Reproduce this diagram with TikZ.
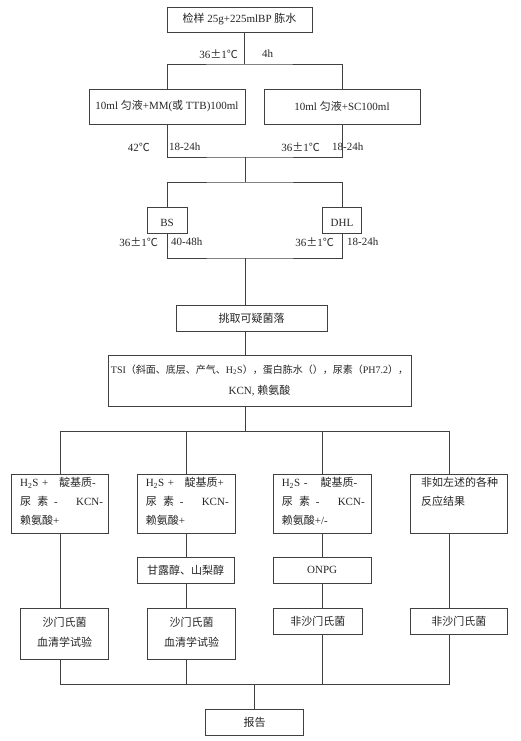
\documentclass[tikz,border=0pt]{standalone}
\usepackage{fontspec}
\setmainfont{Liberation Serif}
\newfontfamily\cjk{Noto Sans CJK SC}
\newcommand{\zh}[1]{{\cjk #1}}
\definecolor{linec}{gray}{0.25}
\definecolor{textc}{gray}{0.15}
\begin{document}
\begin{tikzpicture}[x=1pt,y=-1pt,
  box/.style={draw=linec, line width=0.95pt, inner sep=0pt, text=textc, font=\fontsize{11}{19}\selectfont},
  lbox/.style={box, align=left, minimum height=59pt, inner xsep=8.5pt},
  cbox/.style={box, align=center, font=\fontsize{11}{20}\selectfont},
  lbl/.style={inner sep=0pt, text=textc, font=\fontsize{11}{13}\selectfont},
  conn/.style={draw=linec, line width=0.95pt, line join=miter}]
\useasboundingbox[fill=white] (0,0) rectangle (520,741);

% boxes
\node[box, minimum width=145pt, minimum height=25pt] (top) at (239.5,19.5) {\zh{检样} 25g+225mlBP \zh{胨水}};
\node[box, minimum width=156pt, minimum height=35pt] (L2) at (167,106.5) {10ml \zh{匀液}+MM(\zh{或} TTB)100ml};
\node[box, minimum width=156pt, minimum height=35pt] (R2) at (342,106.5) {10ml \zh{匀液}+SC100ml};
\node[box, minimum width=40pt, minimum height=26pt] (BS) at (167,220) {BS\rule{0pt}{13pt}\hspace{12pt}};
\node[box, minimum width=39pt, minimum height=26pt] (DHL) at (342,220) {DHL\rule{0pt}{13pt}\hspace{5pt}};
\node[box, minimum width=151pt, minimum height=26pt] (pick) at (251.5,318) {\zh{挑取可疑菌落}};
\node[box, minimum width=303pt, minimum height=51pt, align=center, font=\fontsize{11}{21}\selectfont] (tsi) at (259.5,380.5)
  {{\fontsize{10}{21}\selectfont TSI\zh{（斜面、底层、产气、}H\textsubscript{2}S\zh{），蛋白胨水（），尿素（}PH7.2\zh{），}}\\KCN, \zh{赖氨酸}};

\node[lbox, text width=80pt] (b1) at (60.2,503.5)
  {\mbox{\makebox[22pt][l]{H\textsubscript{2}S}\makebox[16.8pt][l]{+}\zh{靛基质}-}\\
   \mbox{\makebox[17.3pt][l]{\zh{尿}}\makebox[16.7pt][l]{\zh{素}}\makebox[22pt][l]{-}KCN-}\\
   \mbox{\zh{赖氨酸}+}\rule[-5pt]{0pt}{5pt}};
\node[lbox, text width=81.4pt] (b2) at (186.5,503.5)
  {\mbox{\makebox[22pt][l]{H\textsubscript{2}S}\makebox[16.8pt][l]{+}\zh{靛基质}+}\\
   \mbox{\makebox[17.3pt][l]{\zh{尿}}\makebox[16.7pt][l]{\zh{素}}\makebox[22pt][l]{-}KCN-}\\
   \mbox{\zh{赖氨酸}+}\rule[-5pt]{0pt}{5pt}};
\node[lbox, text width=81.4pt] (b3) at (322.5,503.5)
  {\mbox{\makebox[22pt][l]{H\textsubscript{2}S}\makebox[16.8pt][l]{-}\zh{靛基质}-}\\
   \mbox{\makebox[17.3pt][l]{\zh{尿}}\makebox[16.7pt][l]{\zh{素}}\makebox[22pt][l]{-}KCN-}\\
   \mbox{\zh{赖氨酸}+/-}\rule[-5pt]{0pt}{5pt}};
\node[lbox, text width=80.7pt] (b4) at (458.85,503.5)
  {\hspace*{2.5pt}\zh{非如左述的各种}\\
   \hspace*{2.5pt}\zh{反应结果}\\
   \mbox{}\rule[-5pt]{0pt}{5pt}};

\node[box, minimum width=96.7pt, minimum height=26pt] (m2) at (185.7,570) {\zh{甘露醇、山梨醇}};
\node[box, minimum width=97.7pt, minimum height=26pt] (m3) at (322.2,570) {ONPG};

\node[cbox, minimum width=88pt, minimum height=51pt] (c1) at (64.7,633.5) {\zh{沙门氏菌}\\\zh{血清学试验}\rule[-3pt]{0pt}{3pt}};
\node[cbox, minimum width=88.4pt, minimum height=51pt] (c2) at (191.5,633.5) {\zh{沙门氏菌}\\\zh{血清学试验}\rule[-3pt]{0pt}{3pt}};
\node[box, minimum width=89pt, minimum height=26pt] (c3) at (317.8,621) {\zh{非沙门氏菌}};
\node[box, minimum width=97.7pt, minimum height=26pt] (c4) at (458.85,621) {\zh{非沙门氏菌}};
\node[box, minimum width=97.6pt, minimum height=26pt] (rep) at (254.5,722) {\zh{报告}};

% labels
\node[lbl, anchor=east] (t1a) at (238,54) {36\zh{±}1\zh{℃}};
\node[lbl, anchor=west] (t1b) at (262,54) {4h};
\node[lbl, anchor=east] (t2a) at (150,147) {42\zh{℃}};
\node[lbl, anchor=west] (t2b) at (169,147) {18-24h};
\node[lbl, anchor=east] (t2c) at (320,147) {36\zh{±}1\zh{℃}};
\node[lbl, anchor=west] (t2d) at (332,147) {18-24h};
\node[lbl, anchor=east] (t3a) at (158,242) {36\zh{±}1\zh{℃}};
\node[lbl, anchor=west] (t3b) at (171,242) {40-48h};
\node[lbl, anchor=east] (t3c) at (334,242) {36\zh{±}1\zh{℃}};
\node[lbl, anchor=west] (t3d) at (347,242) {18-24h};

% connectors
\coordinate (j1) at (244,64);
\draw[conn] (top.south -| j1) -- (j1);
\draw[conn] (L2.north) |- (j1) -| (R2.north);
\coordinate (j2) at (245,157);
\coordinate (j3) at (245,182);
\draw[conn] (L2.south) |- (j2) -| (R2.south);
\draw[conn] (j2) -- (j3);
\draw[conn] (BS.north) |- (j3) -| (DHL.north);
\coordinate (j4) at (245,258);
\draw[conn] (BS.south) |- (j4) -| (DHL.south);
\draw[conn] (j4) -- (pick.north -| j4);
\draw[conn] (pick.south -| j4) -- (tsi.north -| j4);
\coordinate (j5) at (245,431);
\draw[conn] (tsi.south -| j5) -- (j5);
\coordinate (ka) at (60.2,431);
\coordinate (kb) at (186.5,431);
\coordinate (kc) at (322.5,431);
\coordinate (kd) at (449.7,431);
\draw[conn] (b1.north -| ka) -- (ka) -- (kd) -- (b4.north -| kd);
\draw[conn] (kb) -- (b2.north -| kb);
\draw[conn] (kc) -- (b3.north -| kc);
\draw[conn] (b1.south -| ka) -- (c1.north -| ka);
\draw[conn] (b2.south -| kb) -- (m2.north -| kb);
\draw[conn] (m2.south -| kb) -- (c2.north -| kb);
\draw[conn] (b3.south -| kc) -- (m3.north -| kc);
\draw[conn] (m3.south -| kc) -- (c3.north -| kc);
\draw[conn] (b4.south -| kd) -- (c4.north -| kd);
\coordinate (qa) at (60.2,684);
\coordinate (qd) at (449.7,684);
\coordinate (j6) at (254.3,684);
\draw[conn] (c1.south -| ka) -- (qa) -- (qd) -- (c4.south -| kd);
\draw[conn] (c2.south -| kb) -- (kb |- qa);
\draw[conn] (c3.south -| kc) -- (kc |- qa);
\draw[conn] (j6) -- (rep.north -| j6);
\end{tikzpicture}
\end{document}
